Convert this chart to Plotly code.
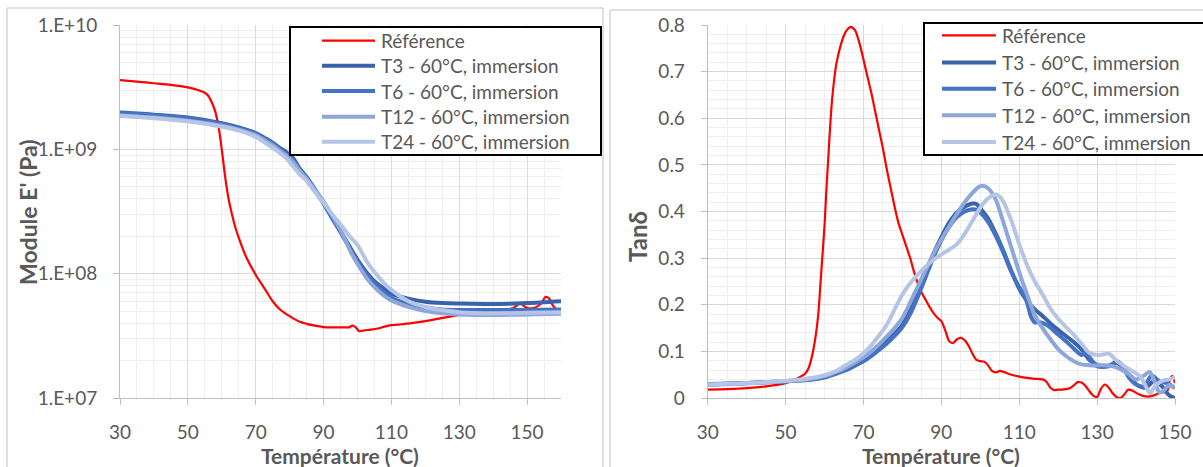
import plotly.graph_objects as go

# ---------------- data: storage modulus E' (Pa) ----------------
ref_E_T = [30, 35, 40, 45, 50, 53, 55, 56, 57, 58, 59, 60, 61, 62, 63, 64, 65, 67, 70, 73, 75, 77, 80,
           83, 85, 88, 90, 93, 96, 97.5, 98.5, 99.5, 100.5, 102, 104, 106, 108, 110, 113, 116, 120, 124,
           128, 132, 136, 140, 144, 146, 148, 149, 150, 152, 154, 155.5, 156.5, 157.5, 158.5, 160]
ref_E = [3.6e9, 3.5e9, 3.4e9, 3.3e9, 3.15e9, 3.0e9, 2.85e9, 2.7e9, 2.4e9, 2.05e9, 1.55e9, 1.0e9, 6.0e8,
         4.0e8, 3.0e8, 2.35e8, 1.95e8, 1.4e8, 9.8e7, 7.3e7, 6.0e7, 5.2e7, 4.55e7, 4.1e7, 3.95e7, 3.8e7,
         3.72e7, 3.7e7, 3.7e7, 3.7e7, 3.82e7, 3.7e7, 3.45e7, 3.5e7, 3.55e7, 3.62e7, 3.75e7, 3.85e7,
         3.92e7, 4.0e7, 4.15e7, 4.35e7, 4.55e7, 4.75e7, 4.95e7, 5.05e7, 5.15e7, 5.3e7, 5.8e7, 5.5e7,
         5.3e7, 5.3e7, 5.7e7, 6.5e7, 6.3e7, 5.6e7, 5.2e7, 5.1e7]

blue_E_T = [30, 40, 50, 60, 65, 70, 73, 75, 77, 79, 81, 83, 85, 87, 90, 93, 95, 98, 100, 103, 105, 108,
            110, 115, 120, 125, 130, 140, 150, 160]
t3_E = [1.98e9, 1.9e9, 1.8e9, 1.62e9, 1.5e9, 1.35e9, 1.22e9, 1.13e9, 1.03e9, 9.5e8, 8.5e8, 7.0e8,
        6.0e8, 5.0e8, 3.7e8, 2.7e8, 2.2e8, 1.6e8, 1.3e8, 1.0e8, 8.7e7, 7.5e7, 6.9e7, 6.3e7, 5.95e7,
        5.8e7, 5.75e7, 5.7e7, 5.8e7, 6.0e7]
t6_E = [1.96e9, 1.88e9, 1.78e9, 1.6e9, 1.48e9, 1.33e9, 1.2e9, 1.11e9, 1.01e9, 9.3e8, 8.3e8, 6.9e8,
        5.9e8, 4.9e8, 3.65e8, 2.65e8, 2.15e8, 1.55e8, 1.25e8, 9.6e7, 8.3e7, 7.0e7, 6.4e7, 5.7e7,
        5.35e7, 5.15e7, 5.1e7, 5.1e7, 5.1e7, 5.15e7]
t12_E = [1.88e9, 1.8e9, 1.7e9, 1.55e9, 1.44e9, 1.3e9, 1.17e9, 1.08e9, 9.8e8, 8.9e8, 7.9e8, 6.7e8,
         5.8e8, 4.9e8, 3.8e8, 2.8e8, 2.25e8, 1.5e8, 1.2e8, 9.0e7, 7.8e7, 6.6e7, 6.1e7, 5.4e7, 5.0e7,
         4.8e7, 4.7e7, 4.65e7, 4.7e7, 4.75e7]
t24_E = [1.85e9, 1.78e9, 1.68e9, 1.52e9, 1.42e9, 1.26e9, 1.12e9, 1.03e9, 9.4e8, 8.5e8, 7.3e8, 6.3e8,
         5.6e8, 4.7e8, 3.7e8, 2.9e8, 2.5e8, 1.95e8, 1.7e8, 1.22e8, 1.03e8, 8.3e7, 7.4e7, 6.0e7, 5.4e7,
         5.1e7, 4.9e7, 4.8e7, 4.85e7, 4.9e7]

# ---------------- data: tan delta ----------------
ref_tan_T = [30, 35, 40, 45, 50, 53, 55, 56, 57, 58, 58.5, 59, 59.5, 60, 60.5, 61, 61.5, 62, 62.5, 63,
             64, 65, 66, 66.8, 67.5, 68, 69, 70, 71, 72, 73, 74, 75, 76, 77, 78, 79, 80, 81, 82, 83,
             84, 85, 86, 87, 88, 89, 90, 91, 92, 93, 94, 95, 96, 97, 98, 99, 100, 101, 102, 103, 104,
             105, 106, 108, 110, 112, 114, 116, 117, 118, 119, 120, 121, 122, 123, 124, 125, 126, 127,
             128, 129, 130, 131, 132, 133, 134, 135, 136, 137, 138, 139, 140, 141, 142, 143, 144, 145,
             146, 147, 148, 148.7, 149.3, 150]
ref_tan = [0.018, 0.019, 0.021, 0.025, 0.032, 0.042, 0.052, 0.066, 0.098, 0.150, 0.19, 0.25, 0.31,
           0.37, 0.45, 0.52, 0.59, 0.645, 0.685, 0.715, 0.752, 0.778, 0.792, 0.796, 0.792, 0.786,
           0.76, 0.726, 0.69, 0.655, 0.615, 0.575, 0.535, 0.49, 0.45, 0.41, 0.375, 0.35, 0.325, 0.3,
           0.27, 0.245, 0.225, 0.21, 0.195, 0.182, 0.172, 0.165, 0.145, 0.122, 0.118, 0.126, 0.129,
           0.124, 0.112, 0.095, 0.082, 0.079, 0.078, 0.07, 0.058, 0.055, 0.058, 0.056, 0.05, 0.046,
           0.043, 0.041, 0.04, 0.035, 0.022, 0.017, 0.018, 0.018, 0.019, 0.021, 0.027, 0.034, 0.033,
           0.026, 0.015, 0.005, 0.002, 0.02, 0.029, 0.022, 0.01, 0.002, 0.0, 0.008, 0.018, 0.016,
           0.011, 0.007, 0.004, 0.003, 0.004, 0.007, 0.011, 0.012, 0.015, 0.04, 0.047, 0.032]

t3_tan_T = [30, 40, 50, 55, 60, 63, 65, 68, 70, 72, 74, 76, 78, 80, 82, 84, 86, 88, 90, 92, 94, 96, 98,
            99, 100, 102, 104, 106, 108, 110, 112, 114, 116, 118, 120, 122, 124, 126, 128, 130, 132,
            134, 135, 136, 138, 140, 142, 143, 144.5, 146, 147, 148, 149, 150]
t3_tan = [0.029, 0.032, 0.036, 0.039, 0.045, 0.053, 0.06, 0.072, 0.082, 0.095, 0.108, 0.122, 0.138,
          0.157, 0.19, 0.228, 0.268, 0.31, 0.345, 0.376, 0.398, 0.41, 0.417, 0.416, 0.407, 0.385,
          0.352, 0.314, 0.272, 0.234, 0.208, 0.19, 0.176, 0.16, 0.146, 0.133, 0.12, 0.104, 0.082,
          0.071, 0.068, 0.072, 0.076, 0.07, 0.05, 0.03, 0.022, 0.025, 0.036, 0.03, 0.022, 0.01,
          0.003, 0.0]
t6_tan_T = [30, 40, 50, 55, 60, 63, 65, 68, 70, 72, 74, 76, 78, 80, 82, 84, 86, 88, 90, 92, 94, 96, 98,
            99, 100, 102, 104, 106, 108, 110, 111, 112, 113, 114, 115, 117, 120, 123, 125, 126, 127,
            128, 130, 133, 135, 136.5, 138, 140, 142, 144, 146, 148, 150]
t6_tan = [0.03, 0.032, 0.036, 0.038, 0.044, 0.052, 0.058, 0.07, 0.079, 0.09, 0.103, 0.117, 0.133,
          0.152, 0.18, 0.218, 0.26, 0.302, 0.338, 0.367, 0.388, 0.4, 0.405, 0.404, 0.398, 0.378,
          0.347, 0.31, 0.27, 0.238, 0.225, 0.205, 0.175, 0.162, 0.163, 0.157, 0.136, 0.114, 0.098,
          0.092, 0.096, 0.088, 0.068, 0.068, 0.079, 0.07, 0.046, 0.029, 0.025, 0.048, 0.036, 0.032,
          0.021]
t12_tan_T = [30, 40, 50, 55, 60, 63, 65, 68, 70, 72, 74, 76, 78, 80, 82, 84, 86, 88, 90, 92, 94, 96,
             98, 99.5, 100.5, 102, 104, 106, 108, 110, 112, 114, 116, 118, 120, 122, 124, 126, 128,
             130, 132, 134, 136, 138, 140, 142, 143.5, 145, 146, 147, 148.5, 150]
t12_tan = [0.028, 0.031, 0.036, 0.039, 0.047, 0.056, 0.063, 0.077, 0.087, 0.1, 0.115, 0.132, 0.15,
           0.172, 0.205, 0.24, 0.275, 0.31, 0.34, 0.368, 0.395, 0.42, 0.44, 0.452, 0.455, 0.45,
           0.425, 0.375, 0.322, 0.27, 0.222, 0.178, 0.15, 0.126, 0.105, 0.09, 0.079, 0.072, 0.07,
           0.07, 0.07, 0.068, 0.062, 0.052, 0.04, 0.048, 0.056, 0.03, 0.012, 0.015, 0.028, 0.022]
t24_tan_T = [30, 40, 50, 55, 60, 63, 65, 68, 70, 72, 74, 76, 78, 80, 82, 84, 86, 88, 90, 92, 94, 96,
             98, 100, 102, 104, 105, 106, 108, 110, 112, 114, 116, 118, 120, 122, 124, 126, 128, 130,
             132, 133, 135, 137, 139, 141, 142.5, 143.6, 145, 147, 148.5, 150]
t24_tan = [0.029, 0.032, 0.037, 0.041, 0.049, 0.058, 0.068, 0.083, 0.096, 0.113, 0.134, 0.157, 0.19,
           0.222, 0.246, 0.265, 0.282, 0.296, 0.308, 0.318, 0.33, 0.352, 0.38, 0.408, 0.428, 0.436,
           0.432, 0.42, 0.38, 0.33, 0.285, 0.25, 0.222, 0.192, 0.17, 0.152, 0.136, 0.116, 0.097,
           0.092, 0.094, 0.095, 0.08, 0.068, 0.058, 0.047, 0.025, 0.01, 0.027, 0.038, 0.04, 0.044]

series_names = ["Référence", "T3 - 60°C, immersion", "T6 - 60°C, immersion",
                "T12 - 60°C, immersion", "T24 - 60°C, immersion"]
colors = ["#FF0000", "#3A62AD", "#4472C4", "#8EA7DA", "#B6C5E6"]
widths = [2.2, 4, 4, 4, 4]

x_ticks_left = [30, 50, 70, 90, 110, 130, 150]
y_ticks_left = [1e7, 1e8, 1e9, 1e10]
y_ticktext_left = ["1.E+07", "1.E+08", "1.E+09", "1.E+10"]

W, H = 1203, 467
FONT = "Lato"
GREY = "#595959"


def px(x):
    return x / W


def py(y):
    return 1 - y / H


fig = go.Figure()

E_sets = [(ref_E_T, ref_E), (blue_E_T, t3_E), (blue_E_T, t6_E), (blue_E_T, t12_E), (blue_E_T, t24_E)]
tan_sets = [(ref_tan_T, ref_tan), (t3_tan_T, t3_tan), (t6_tan_T, t6_tan), (t12_tan_T, t12_tan),
            (t24_tan_T, t24_tan)]

for (xs, ys), name, c, w in zip(E_sets, series_names, colors, widths):
    fig.add_trace(go.Scatter(x=xs, y=ys, name=name, mode="lines", showlegend=False,
                             line=dict(color=c, width=w, shape="spline", smoothing=0.8),
                             xaxis="x", yaxis="y"))
for (xs, ys), name, c, w in zip(tan_sets, series_names, colors, widths):
    fig.add_trace(go.Scatter(x=xs, y=ys, name=name, mode="lines", showlegend=False,
                             line=dict(color=c, width=w, shape="spline", smoothing=0.8),
                             xaxis="x2", yaxis="y2"))

axis_common = dict(showline=True, linecolor="#BFBFBF", linewidth=1, ticks="outside", ticklen=6,
                   tickcolor="#BFBFBF", gridcolor="#D9D9D9", gridwidth=1, zeroline=False,
                   automargin=False,
                   tickfont=dict(family=FONT, size=19, color=GREY), fixedrange=True)

minor_logvals = [m * 10 ** e for e in (7, 8, 9) for m in range(2, 10)]

fig.update_layout(
    width=W, height=H, autosize=False,
    margin=dict(l=0, r=0, t=0, b=0, pad=0, autoexpand=False),
    paper_bgcolor="white", plot_bgcolor="white",
    font=dict(family=FONT, color=GREY),
    xaxis=dict(domain=[px(120), px(561)], range=[30, 160], tickvals=x_ticks_left, anchor="y",
               minor=dict(tick0=30, dtick=5, showgrid=True, gridcolor="#EEEEEE", ticklen=0),
               ticklabelstandoff=11, **axis_common),
    yaxis=dict(domain=[py(398), py(25)], type="log", range=[7, 10], tickvals=y_ticks_left,
               ticktext=y_ticktext_left, anchor="x",
               minor=dict(tickvals=minor_logvals, showgrid=True, gridcolor="#EEEEEE", ticklen=0),
               ticklabelstandoff=12, **axis_common),
    xaxis2=dict(domain=[px(707.7), px(1175)], range=[30, 150], tick0=30, dtick=20, anchor="y2",
                minor=dict(tick0=30, dtick=5, showgrid=True, gridcolor="#EEEEEE", ticklen=0),
                ticklabelstandoff=11, **axis_common),
    yaxis2=dict(domain=[py(398), py(25)], range=[0, 0.8], tick0=0, dtick=0.1, anchor="x2",
                minor=dict(tick0=0, dtick=0.02, showgrid=True, gridcolor="#EEEEEE", ticklen=0),
                ticklabelstandoff=12, **axis_common),
)

shapes = []
# outer chart frames
shapes.append(dict(type="rect", xref="paper", yref="paper", x0=px(7), x1=px(603), y0=py(480), y1=py(8),
                   line=dict(color="#BFBFBF", width=1), layer="below"))
shapes.append(dict(type="rect", xref="paper", yref="paper", x0=px(610), x1=px(1215), y0=py(480), y1=py(10),
                   line=dict(color="#BFBFBF", width=1), layer="below"))

annotations = []
# manual legends
legends = [
    dict(box=(290, 601, 27, 155), lx=(322, 375), tx=379, rows=[40.7, 65.7, 91, 116.7, 141.7]),
    dict(box=(924, 1215, 23, 155), lx=(942, 996), tx=1000, rows=[35.3, 62.5, 88.8, 115.3, 142]),
]
for lg in legends:
    x0, x1, y0, y1 = lg["box"]
    shapes.append(dict(type="rect", xref="paper", yref="paper", x0=px(x0), x1=px(x1), y0=py(y1), y1=py(y0),
                       line=dict(color="black", width=2), fillcolor="white", layer="above"))
    for name, c, w, ry in zip(series_names, colors, widths, lg["rows"]):
        shapes.append(dict(type="line", xref="paper", yref="paper", x0=px(lg["lx"][0]), x1=px(lg["lx"][1]),
                           y0=py(ry), y1=py(ry), line=dict(color=c, width=w), layer="above"))
        annotations.append(dict(text=name, xref="paper", yref="paper", x=px(lg["tx"]), y=py(ry),
                                xanchor="left", yanchor="middle", showarrow=False,
                                font=dict(family=FONT, size=19, color=GREY)))

# axis titles
annotations.append(dict(text="<b>Température (°C)</b>", xref="paper", yref="paper", x=px(340), y=py(455),
                        xanchor="center", yanchor="middle", showarrow=False,
                        font=dict(family=FONT, size=21, color=GREY)))
annotations.append(dict(text="<b>Température (°C)</b>", xref="paper", yref="paper", x=px(941), y=py(455),
                        xanchor="center", yanchor="middle", showarrow=False,
                        font=dict(family=FONT, size=21, color=GREY)))
annotations.append(dict(text="<b>Module E' (Pa)</b>", xref="paper", yref="paper", x=px(28), y=py(212),
                        xanchor="center", yanchor="middle", textangle=-90, showarrow=False,
                        font=dict(family=FONT, size=23, color=GREY)))
annotations.append(dict(text="<b>Tanδ</b>", xref="paper", yref="paper", x=px(638), y=py(237),
                        xanchor="center", yanchor="middle", textangle=-90, showarrow=False,
                        font=dict(family=FONT, size=24, color=GREY)))

fig.update_layout(shapes=shapes, annotations=annotations)

fig.write_html("out.html", config={"displayModeBar": False},
               post_script="document.body.style.margin='0';document.body.style.overflow='hidden';")
